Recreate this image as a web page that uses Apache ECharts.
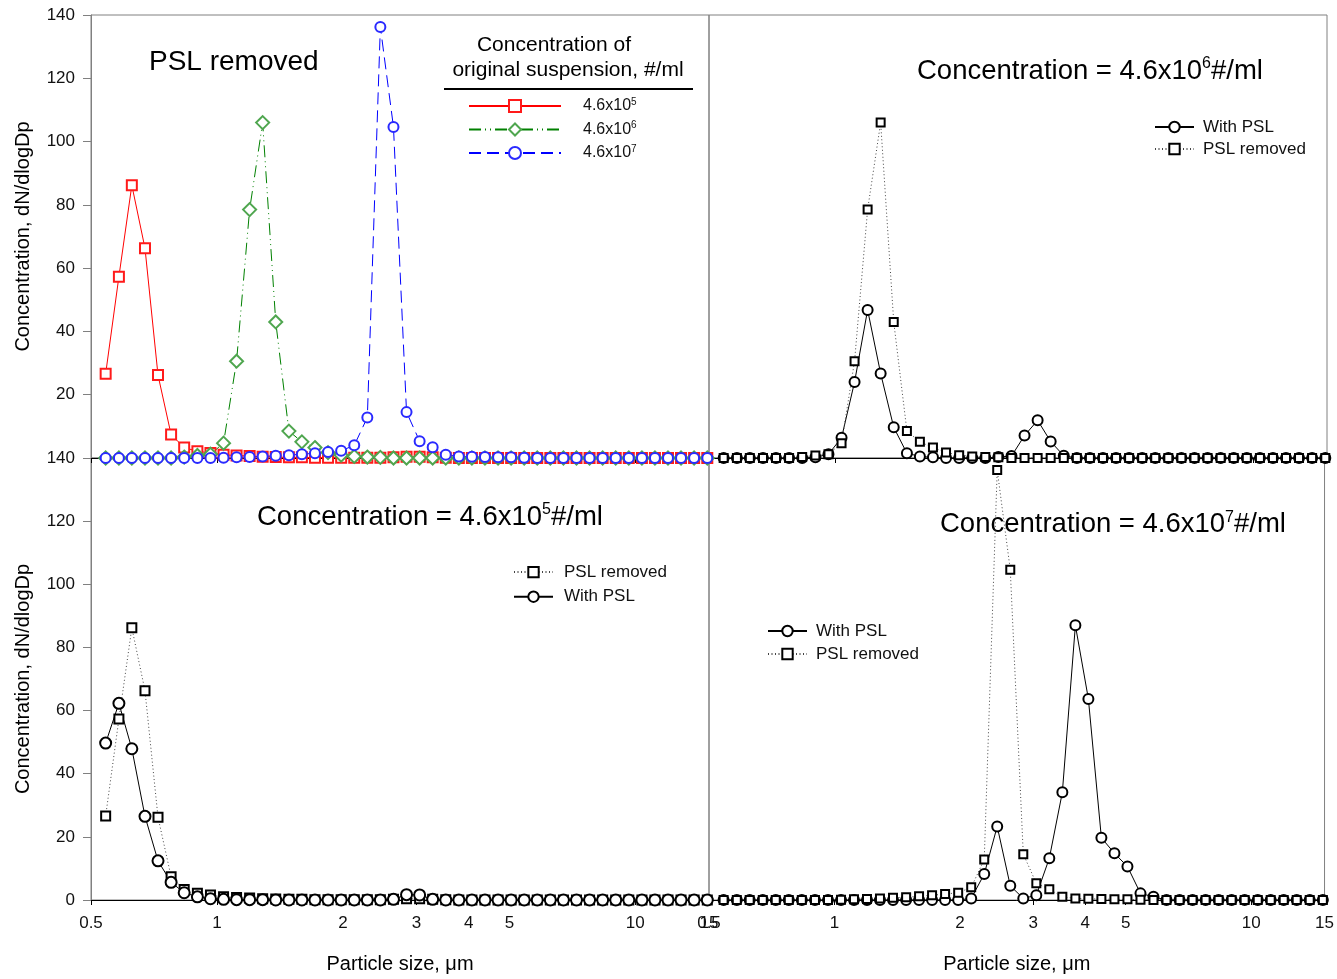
<!DOCTYPE html>
<html>
<head>
<meta charset="utf-8">
<script src="https://cdn.jsdelivr.net/npm/echarts@6/dist/echarts.min.js"></script>
<style>
  html, body { margin: 0; padding: 0; background: #fff; }
  #chart { width: 1337px; height: 979px; }
</style>
</head>
<body>
<div id="chart"></div>
<script>
// APS channel midpoint diameters, µm (32 channels per decade, 0.5–15 µm)
const diameters = [0.542, 0.583, 0.626, 0.673, 0.723, 0.777, 0.835, 0.898, 0.965, 1.037,
  1.114, 1.197, 1.286, 1.382, 1.486, 1.596, 1.715, 1.843, 1.981, 2.129,
  2.288, 2.458, 2.642, 2.839, 3.051, 3.278, 3.523, 3.786, 4.068, 4.371,
  4.698, 5.048, 5.425, 5.829, 6.264, 6.732, 7.234, 7.774, 8.354, 8.977,
  9.647, 10.37, 11.14, 11.97, 12.86, 13.82, 14.86];

// dN/dlogDp, PSL removed, for each original suspension concentration
const removed5 = [26.6, 57.3, 86.2, 66.3, 26.2, 7.4, 3.3, 2.1, 1.6, 1.0,
  0.8, 0.6, 0.4, 0.3, 0.2, 0.2, 0.1, 0.1, 0.1, 0.1,
  0.1, 0.1, 0.2, 0.4, 0.4, 0.2, 0.1, 0, 0, 0,
  0, 0, 0, 0, 0, 0, 0, 0, 0, 0,
  0, 0, 0, 0, 0, 0, 0];
const removed6 = [0, 0, 0, 0, 0, 0, 0.3, 0.8, 1.2, 4.7,
  30.6, 78.5, 106.0, 43.0, 8.5, 5.1, 3.3, 1.7, 0.9, 0.5,
  0.3, 0.2, 0, 0, 0, 0, 0, 0, 0, 0,
  0, 0, 0, 0, 0, 0, 0, 0, 0, 0,
  0, 0, 0, 0, 0, 0, 0];
const removed7 = [0, 0, 0, 0, 0, 0, 0, 0, 0, 0.1,
  0.2, 0.3, 0.5, 0.7, 0.9, 1.2, 1.5, 1.9, 2.3, 4.0,
  12.8, 136.2, 104.6, 14.5, 5.3, 3.4, 1.0, 0.5, 0.4, 0.3,
  0.2, 0.2, 0.1, 0, 0, 0, 0, 0, 0, 0,
  0, 0, 0, 0, 0, 0, 0];

// dN/dlogDp, with PSL
const withPsl5 = [49.7, 62.3, 47.9, 26.5, 12.4, 5.6, 2.3, 1.0, 0.4, 0.2,
  0.1, 0.1, 0.1, 0, 0, 0, 0, 0, 0, 0,
  0, 0, 0.2, 1.7, 1.6, 0.2, 0, 0, 0, 0,
  0, 0, 0, 0, 0, 0, 0, 0, 0, 0,
  0, 0, 0, 0, 0, 0, 0];
const withPsl6 = [0, 0, 0, 0, 0, 0, 0, 0.2, 1.2, 6.4,
  24.0, 46.8, 26.7, 9.7, 1.5, 0.5, 0.2, 0, 0, 0,
  0, 0.3, 0.6, 7.1, 11.9, 5.2, 0.7, 0, 0, 0,
  0, 0, 0, 0, 0, 0, 0, 0, 0, 0,
  0, 0, 0, 0, 0, 0, 0];
const withPsl7 = [0, 0, 0, 0, 0, 0, 0, 0, 0, 0,
  0, 0, 0, 0, 0, 0, 0, 0, 0, 0.5,
  8.2, 23.3, 4.5, 0.5, 1.5, 13.2, 34.1, 87.0, 63.7, 19.7,
  14.8, 10.6, 2.1, 1.0, 0, 0, 0, 0, 0, 0,
  0, 0, 0, 0, 0, 0, 0];

const sizeTicks = [0.5, 1, 2, 3, 4, 5, 10, 15];

const FONT = '"Liberation Sans", Arial, sans-serif';
const AXIS_GRAY = '#808080';

const chart = echarts.init(document.getElementById('chart'), null, { renderer: 'canvas' });

const grids = [
  { left: 91, top: 15, width: 618, height: 443 },
  { left: 709, top: 15, width: 618, height: 443 },
  { left: 91, top: 458, width: 618, height: 442 },
  { left: 709, top: 458, width: 618, height: 442 }
].map(g => Object.assign(g, { show: true, borderColor: AXIS_GRAY, borderWidth: 1, backgroundColor: 'transparent' }));

const xAxes = [0, 1, 2, 3].map(i => ({
  gridIndex: i,
  type: 'log',
  logBase: 10,
  min: 0.5,
  max: 15,
  axisLine: { show: true, onZero: false, lineStyle: { color: '#000', width: 1 } },
  axisTick: { show: true, customValues: sizeTicks, length: 5, lineStyle: { color: '#000' } },
  minorTick: { show: false },
  splitLine: { show: false },
  axisLabel: {
    show: i >= 2, customValues: sizeTicks, margin: 15,
    fontSize: 17, fontFamily: FONT, color: '#111',
    formatter: v => String(+(+v).toPrecision(3))
  },
  name: i >= 2 ? 'Particle size, μm' : '',
  nameLocation: 'middle',
  nameGap: 54,
  nameTextStyle: { fontSize: 20, fontFamily: FONT, color: '#000' }
}));

const yAxes = [0, 1, 2, 3].map(i => {
  const isLeft = i % 2 === 0;
  return {
    gridIndex: i,
    type: 'value',
    min: 0,
    max: 140,
    interval: 20,
    axisLine: { show: isLeft, onZero: false, lineStyle: { color: AXIS_GRAY, width: 1 } },
    axisTick: { show: isLeft, length: 8, lineStyle: { color: AXIS_GRAY } },
    axisLabel: {
      show: isLeft, showMinLabel: i !== 0, margin: 16,
      fontSize: 17, fontFamily: FONT, color: '#111'
    },
    splitLine: { show: false },
    name: isLeft ? 'Concentration, dN/dlogDp' : '',
    nameLocation: 'middle',
    nameGap: 58,
    nameTextStyle: { fontSize: 20, fontFamily: FONT, color: '#000' }
  };
});

function points(values) {
  return diameters.map((d, k) => [d, values[k]]);
}

function lineSeries(name, values, grid, symbol, size, lineColor, markColor, dash) {
  return {
    type: 'line',
    name: name,
    xAxisIndex: grid,
    yAxisIndex: grid,
    data: points(values),
    symbol: symbol,
    symbolSize: size,
    showAllSymbol: true,
    silent: true,
    lineStyle: { color: lineColor, width: 1, type: dash },
    itemStyle: { color: markColor, borderWidth: 1 },
    emphasis: { disabled: true }
  };
}

const DASH_DOT_DOT = [12, 4, 1, 4, 1, 4];
const DASHED = [12, 6];
const DOTTED = [1, 2.5];

const series = [
  // PSL removed, three concentrations
  lineSeries('4.6x10^5', removed5, 0, 'emptyRect', 10, '#ff0000', '#ff1a1a', 'solid'),
  lineSeries('4.6x10^6', removed6, 0, 'emptyDiamond', 13, '#008000', '#4fa64f', DASH_DOT_DOT),
  lineSeries('4.6x10^7', removed7, 0, 'emptyCircle', 10, '#0000ff', '#2a2aff', DASHED),
  // 4.6x10^6 #/ml
  lineSeries('With PSL', withPsl6, 1, 'emptyCircle', 10, '#000', '#000', 'solid'),
  lineSeries('PSL removed', removed6, 1, 'emptyRect', 8, '#444', '#000', DOTTED),
  // 4.6x10^5 #/ml
  lineSeries('PSL removed', removed5, 2, 'emptyRect', 9, '#444', '#000', DOTTED),
  lineSeries('With PSL', withPsl5, 2, 'emptyCircle', 11, '#000', '#000', 'solid'),
  // 4.6x10^7 #/ml
  lineSeries('With PSL', withPsl7, 3, 'emptyCircle', 10, '#000', '#000', 'solid'),
  lineSeries('PSL removed', removed7, 3, 'emptyRect', 8, '#444', '#000', DOTTED)
];

const supRich = {
  s: { fontSize: 10, fontFamily: FONT, color: '#111', lineHeight: 6, verticalAlign: 'top' }
};

function blackLegend(names, left, top, gap, textPad) {
  return {
    data: names,
    orient: 'vertical',
    left: left,
    top: top,
    padding: 0,
    itemWidth: 39,
    itemHeight: 13,
    itemGap: gap,
    selectedMode: false,
    textStyle: { fontSize: 17, fontFamily: FONT, color: '#111', padding: [0, 0, 0, textPad] }
  };
}

const legends = [
  {
    data: ['4.6x10^5', '4.6x10^6', '4.6x10^7'],
    orient: 'vertical',
    left: 468,
    top: 97,
    padding: 0,
    itemWidth: 92,
    itemHeight: 15,
    itemGap: 5.5,
    selectedMode: false,
    formatter: n => n.replace(/\^(\d+)/, '{s|$1}'),
    textStyle: { fontSize: 16, fontFamily: FONT, color: '#111', lineHeight: 18, padding: [0, 0, 0, 17], rich: supRich }
  },
  blackLegend(['With PSL', 'PSL removed'], 1154, 118.5, 5, 4),
  blackLegend(['PSL removed', 'With PSL'], 513, 563.6, 7.6, 6),
  blackLegend(['With PSL', 'PSL removed'], 767, 622.5, 6, 4)
];

const titleRich = {
  s: { fontSize: 16, fontFamily: FONT, fill: '#000', lineHeight: 9, verticalAlign: 'top' }
};

function panelTitle(text, x, y, size) {
  return {
    type: 'text',
    x: x,
    y: y,
    silent: true,
    style: {
      text: text,
      fontSize: size,
      fontFamily: FONT,
      lineHeight: 30,
      fill: '#000',
      align: 'left',
      verticalAlign: 'middle',
      textAlign: 'left',
      textVerticalAlign: 'middle',
      rich: titleRich
    }
  };
}

function plainText(text, x, y, size, align) {
  return {
    type: 'text',
    x: x,
    y: y,
    silent: true,
    style: {
      text: text,
      fontSize: size,
      fontFamily: FONT,
      fill: '#000',
      align: align,
      verticalAlign: 'middle',
      textAlign: align,
      textVerticalAlign: 'middle'
    }
  };
}

const graphics = [
  panelTitle('PSL removed', 149, 62, 28),
  panelTitle('Concentration = 4.6x10{s|6}#/ml', 917, 71, 27.5),
  panelTitle('Concentration = 4.6x10{s|5}#/ml', 257, 517, 27.5),
  panelTitle('Concentration = 4.6x10{s|7}#/ml', 940, 524.5, 27.5),
  plainText('Concentration of', 554, 45, 21, 'center'),
  plainText('original suspension, #/ml', 568, 70, 21, 'center'),
  {
    type: 'line',
    silent: true,
    shape: { x1: 444, y1: 89, x2: 693, y2: 89 },
    style: { stroke: '#000', lineWidth: 2 }
  }
];

chart.setOption({
  animation: false,
  backgroundColor: '#fff',
  grid: grids,
  xAxis: xAxes,
  yAxis: yAxes,
  legend: legends,
  series: series,
  graphic: graphics
});
</script>
</body>
</html>
